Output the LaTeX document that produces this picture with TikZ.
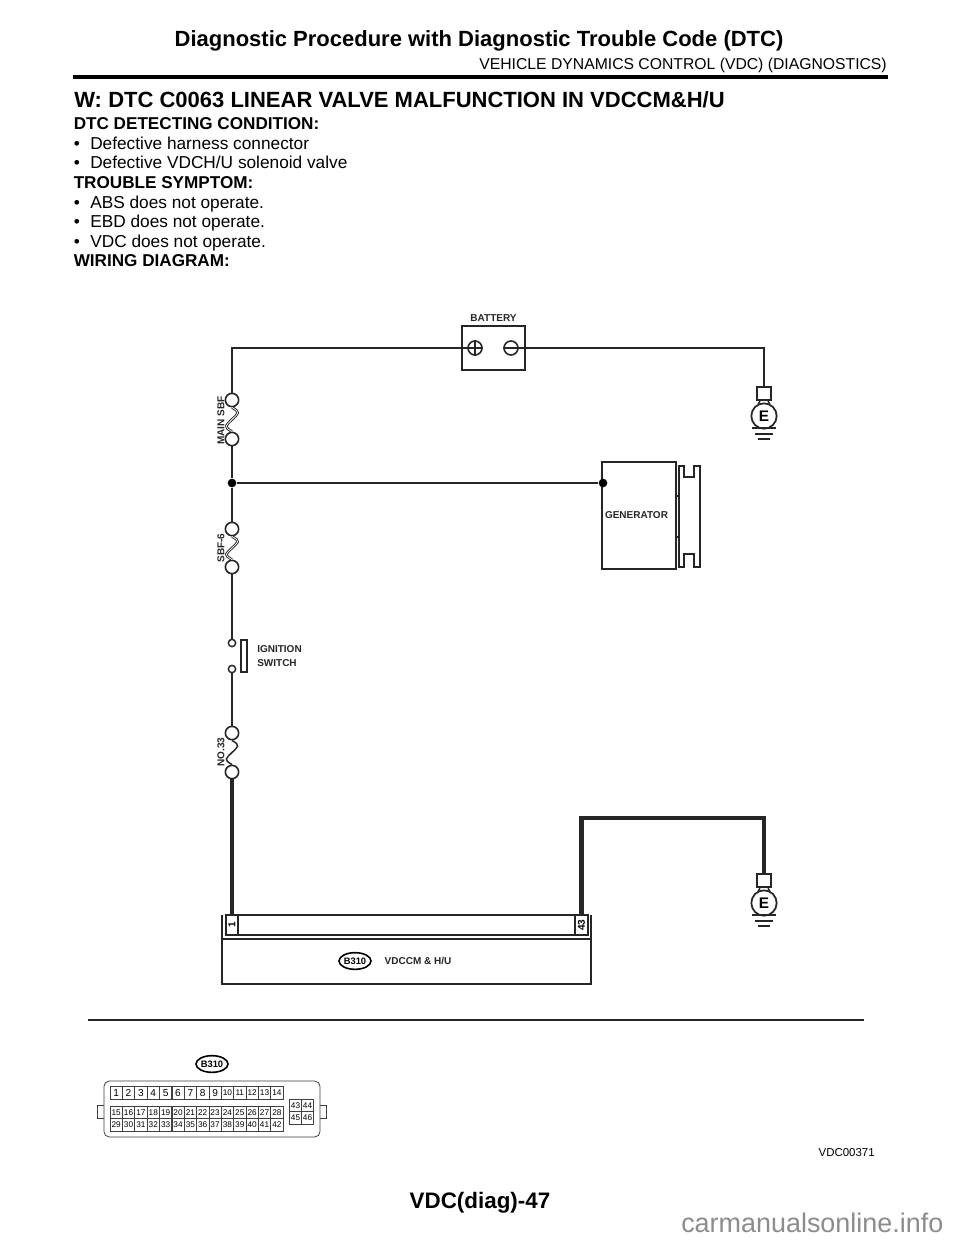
\documentclass[tikz,border=0pt]{standalone}
\usepackage{fontspec}
\setmainfont{Liberation Sans}
\usetikzlibrary{shapes.geometric, positioning, calc}

\begin{document}
\begin{tikzpicture}[
  x=0.75pt, y=-0.75pt,
  wire/.style={line width=1.5pt, black!85},
  hotwire/.style={line width=3.2pt, black!85},
  part/.style={rectangle, draw=black!85, line width=1.4pt, inner sep=0pt},
  fusepin/.style={circle, draw=black!85, fill=white, line width=1.2pt, minimum size=10pt, inner sep=0pt},
  switchpin/.style={circle, draw=black!85, fill=white, line width=1.1pt, minimum size=5.5pt, inner sep=0pt},
  junction/.style={circle, fill=black, minimum size=6.5pt, inner sep=0pt},
  label/.style={font=\fontsize{7.5}{8}\selectfont\bfseries, inner sep=0pt, text=black!85},
  tag/.style={ellipse, draw=black, line width=1.2pt, minimum width=24pt, minimum height=12.5pt, inner sep=0pt, font=\fontsize{7}{8}\selectfont\bfseries},
  earth/.style={circle, draw=black!85, fill=white, line width=1.3pt, minimum size=19pt, inner sep=0pt, font=\fontsize{11.5}{12}\selectfont\bfseries},
  lugbox/.style={part, minimum width=10.5pt, minimum height=10pt},
  gndbar/.style={line width=1.2pt, black!85},
  cell/.style={rectangle, draw=black!75, line width=0.5pt, minimum width=9.3pt, minimum height=9.4pt, inner sep=0pt, font=\fontsize{6.2}{7}\selectfont},
  bigcell/.style={cell, font=\fontsize{7.6}{8}\selectfont},
  bodyline/.style={anchor=base west, inner sep=0pt, font=\fontsize{12.95}{14}\selectfont},
  boldline/.style={bodyline, font=\fontsize{12.85}{14}\selectfont\bfseries}
]
  \useasboundingbox (0,0) rectangle (960,1242);
  \fill[white] (0,0) rectangle (960,1242);

  % Page head
  \node[anchor=base, inner sep=0pt, font=\fontsize{16.5}{18}\selectfont\bfseries] (title) at (479,46) {Diagnostic Procedure with Diagnostic Trouble Code (DTC)};
  \node[anchor=base east, inner sep=0pt, font=\fontsize{11.8}{14}\selectfont] (section) at (887,69) {VEHICLE DYNAMICS CONTROL (VDC) (DIAGNOSTICS)};
  \coordinate (headl) at (73,77);
  \coordinate (headr) at (888,77);
  \draw[line width=2.6pt] (headl) -- (headr);

  % Text block
  \node[anchor=base west, inner sep=0pt, font=\fontsize{16.5}{18}\selectfont\bfseries] (dtcw) at (74,107.5) {W:};
  \node[anchor=base west, inner sep=0pt, font=\fontsize{16.5}{18}\selectfont\bfseries] (dtc) at (108,107.5) {DTC C0063 LINEAR VALVE MALFUNCTION IN VDCCM\&H/U};
  \node[boldline] (cond) at (73.5,129) {DTC DETECTING CONDITION:};
  \node[bodyline] (b1) at (73.5,149) {•};
  \node[bodyline] (c1) at (90,149) {Defective harness connector};
  \node[bodyline] (b2) at (73.5,168) {•};
  \node[bodyline] (c2) at (90,168) {Defective VDCH/U solenoid valve};
  \node[boldline] (symp) at (73.5,188) {TROUBLE SYMPTOM:};
  \node[bodyline] (b3) at (73.5,208) {•};
  \node[bodyline] (s1) at (90,208) {ABS does not operate.};
  \node[bodyline] (b4) at (73.5,227) {•};
  \node[bodyline] (s2) at (90,227) {EBD does not operate.};
  \node[bodyline] (b5) at (73.5,247) {•};
  \node[bodyline] (s3) at (90,247) {VDC does not operate.};
  \node[boldline] (wd) at (73.5,266) {WIRING DIAGRAM:};

  % Battery
  \node[part, minimum width=47pt, minimum height=33pt, line width=1.5pt] (battery) at (493.5,348) {};
  \node[label, above=2.5pt of battery] (batlabel) {BATTERY};
  \node[circle, draw=black!85, line width=1.2pt, minimum size=10.5pt, inner sep=0pt] (plus) at (475,348) {};
  \node[circle, draw=black!85, line width=1.2pt, minimum size=10.5pt, inner sep=0pt] (minus) at (511,348) {};
  \draw[line width=1.2pt, black!85] (plus.north) -- (plus.south);
  \draw[line width=1.2pt, black!85] (plus.west) -- (plus.east);
  \draw[line width=1.2pt, black!85] (minus.west) -- (minus.east);

  % Fuses
  \node[fusepin] (mainA) at (232,400) {};
  \node[fusepin] (mainB) at (232,439) {};
  \node[fusepin] (sbfA) at (232,529) {};
  \node[fusepin] (sbfB) at (232,567) {};
  \node[fusepin] (noA) at (232,733) {};
  \node[fusepin] (noB) at (232,772) {};
  \foreach \upper/\lower in {mainA/mainB, sbfA/sbfB}
    \draw[line width=0.65pt, black!90, double=white, double distance=0.6pt] (\upper.south) .. controls +(9,5) and +(6,-6) .. ($(\upper)!0.5!(\lower)$) .. controls +(-6,6) and +(-9,-5) .. (\lower.north);
  \draw[line width=1.1pt, black!85] (noA.south) .. controls +(9,5) and +(6,-6) .. ($(noA)!0.5!(noB)$) .. controls +(-6,6) and +(-9,-5) .. (noB.north);
  \node[label, rotate=90] (mainlabel) at (221,420.5) {MAIN SBF};
  \node[label, rotate=90] (sbflabel) at (221,548) {SBF-6};
  \node[label, rotate=90] (nolabel) at (221,752) {NO.33};

  % Ignition switch
  \node[switchpin] (swA) at (232,643) {};
  \node[switchpin] (swB) at (232,669) {};
  \node[part, minimum width=4.5pt, minimum height=24pt, line width=1.1pt] (swbar) at (244,656) {};
  \node[label, anchor=west] (ign) at (257,649) {IGNITION};
  \node[label, anchor=west] (swi) at (257,663) {SWITCH};

  % Generator
  \node[part, minimum width=55.5pt, minimum height=80pt] (generator) at (639,515.5) {};
  \node[label] (genlabel) at (636.5,515) {GENERATOR};
  \node[junction] (jleft) at (232,483) {};
  \node[junction] (jright) at (603,483) {};
  \draw[line width=1.3pt, black!85] (679,466) -- (684,466) -- (684,477) -- (694,477) -- (694,466) -- (700,466) -- (700,567) -- (694,567) -- (694,554) -- (684,554) -- (684,567) -- (679,567) -- cycle;
  \draw[line width=1.1pt, black!85] (676,496) -- (679,496);
  \draw[line width=1.1pt, black!85] (676,537) -- (679,537);

  % Earth points
  \node[lugbox] (lugA) at (764,393.5) {};
  \node[earth] (earthA) at (764,416) {E};
  \node[lugbox] (lugB) at (764,880.5) {};
  \node[earth] (earthB) at (764,903) {E};
  \foreach \lug/\pit in {lugA/earthA, lugB/earthB} {
    \draw[line width=1.1pt, black!85] ($(\lug.south)+(-4,0)$) -- ($(\pit.north)+(-6,2)$);
    \draw[line width=1.1pt, black!85] ($(\lug.south)+(4,0)$) -- ($(\pit.north)+(6,2)$);
  }
  \foreach \y in {428,915} {
    \draw[gndbar] (752,\y) -- (776,\y);
    \draw[gndbar] (755,\y+6) -- (773,\y+6);
    \draw[gndbar] (758,\y+11) -- (770,\y+11);
  }

  % Control module
  \node[part, minimum width=276.5pt, minimum height=33.8pt] (module) at (406.5,961.5) {};
  \draw[line width=1.4pt, black!85] (222,915) -- (222,939);
  \draw[line width=1.4pt, black!85] (591,915) -- (591,939);
  \node[part, minimum width=271.5pt, minimum height=15pt, line width=1.3pt] (socket) at (407,925) {};
  \node[part, minimum width=9.5pt, minimum height=15pt, line width=1.3pt, font=\fontsize{7.5}{8}\selectfont\bfseries] (pinA) at (232,925) {\rotatebox{90}{1}};
  \node[part, minimum width=9.5pt, minimum height=15pt, line width=1.3pt, font=\fontsize{7.5}{8}\selectfont\bfseries] (pinB) at (581.5,925) {\rotatebox{90}{43}};
  \node[tag] (tagmodule) at (355,961) {B310};
  \node[label] (modlabel) at (418,961) {VDCCM \& H/U};

  % Wiring
  \coordinate (cornerA) at (232,348);
  \coordinate (cornerB) at (764,348);
  \coordinate (cornerC) at (581.5,818);
  \coordinate (cornerD) at (764,818);
  \draw[wire] (plus.center) -- (cornerA) -- (mainA.north);
  \draw[wire] (minus.east) -- (cornerB) -- (lugA.north);
  \draw[wire] (mainB.south) -- (jleft);
  \draw[wire] (jleft) -- (sbfA.north);
  \draw[wire] (jleft) -- (jright);
  \draw[wire] (sbfB.south) -- (swA.north);
  \draw[wire] (swB.south) -- (noA.north);
  \draw[hotwire] (noB.south) -- (pinA.north);
  \draw[hotwire] (pinB.north) -- (cornerC) -- (cornerD) -- (lugB.north);

  % Rule below the circuit
  \coordinate (rulel) at (88,1020);
  \coordinate (ruler) at (864,1020);
  \draw[line width=1.8pt, black!85] (rulel) -- (ruler);

  % Connector face
  \node[tag] (tagface) at (212,1064) {B310};
  \draw[line width=0.6pt, black!75, rounded corners=4pt] (104,1081) rectangle (320,1137);
  \draw[line width=0.6pt, black!75] (104,1105) -- (97,1105) -- (97,1118) -- (104,1118);
  \draw[line width=0.6pt, black!75] (320,1105) -- (326,1105) -- (326,1118) -- (320,1118);
  \foreach \n in {1,...,9}
    \node[bigcell] (pin\n) at ({116.2+12.36*(\n-1)},1093) {\n};
  \foreach \n in {10,...,14}
    \node[cell] (pin\n) at ({116.2+12.36*(\n-1)},1093) {\n};
  \foreach \n in {15,...,28}
    \node[cell] (pin\n) at ({116.2+12.36*(\n-15)},1112.5) {\n};
  \foreach \n in {29,...,42}
    \node[cell] (pin\n) at ({116.2+12.36*(\n-29)},1125) {\n};
  \foreach \n/\px/\py in {43/295.5/1105.5, 44/307.5/1105.5, 45/295.5/1118, 46/307.5/1118}
    \node[cell] (pin\n) at (\px,\py) {\n};

  \node[anchor=base east, inner sep=0pt, font=\fontsize{8.6}{10}\selectfont] (figcode) at (875,1156) {VDC00371};

  % Page foot
  \node[anchor=base, inner sep=0pt, font=\fontsize{16.8}{18}\selectfont\bfseries] (pageno) at (480,1208) {VDC(diag)-47};
  \node[anchor=base west, inner sep=0pt, text=black!45, font=\fontsize{20.2}{22}\selectfont] (site) at (681,1232) {carmanualsonline.info};
\end{tikzpicture}
\end{document}
